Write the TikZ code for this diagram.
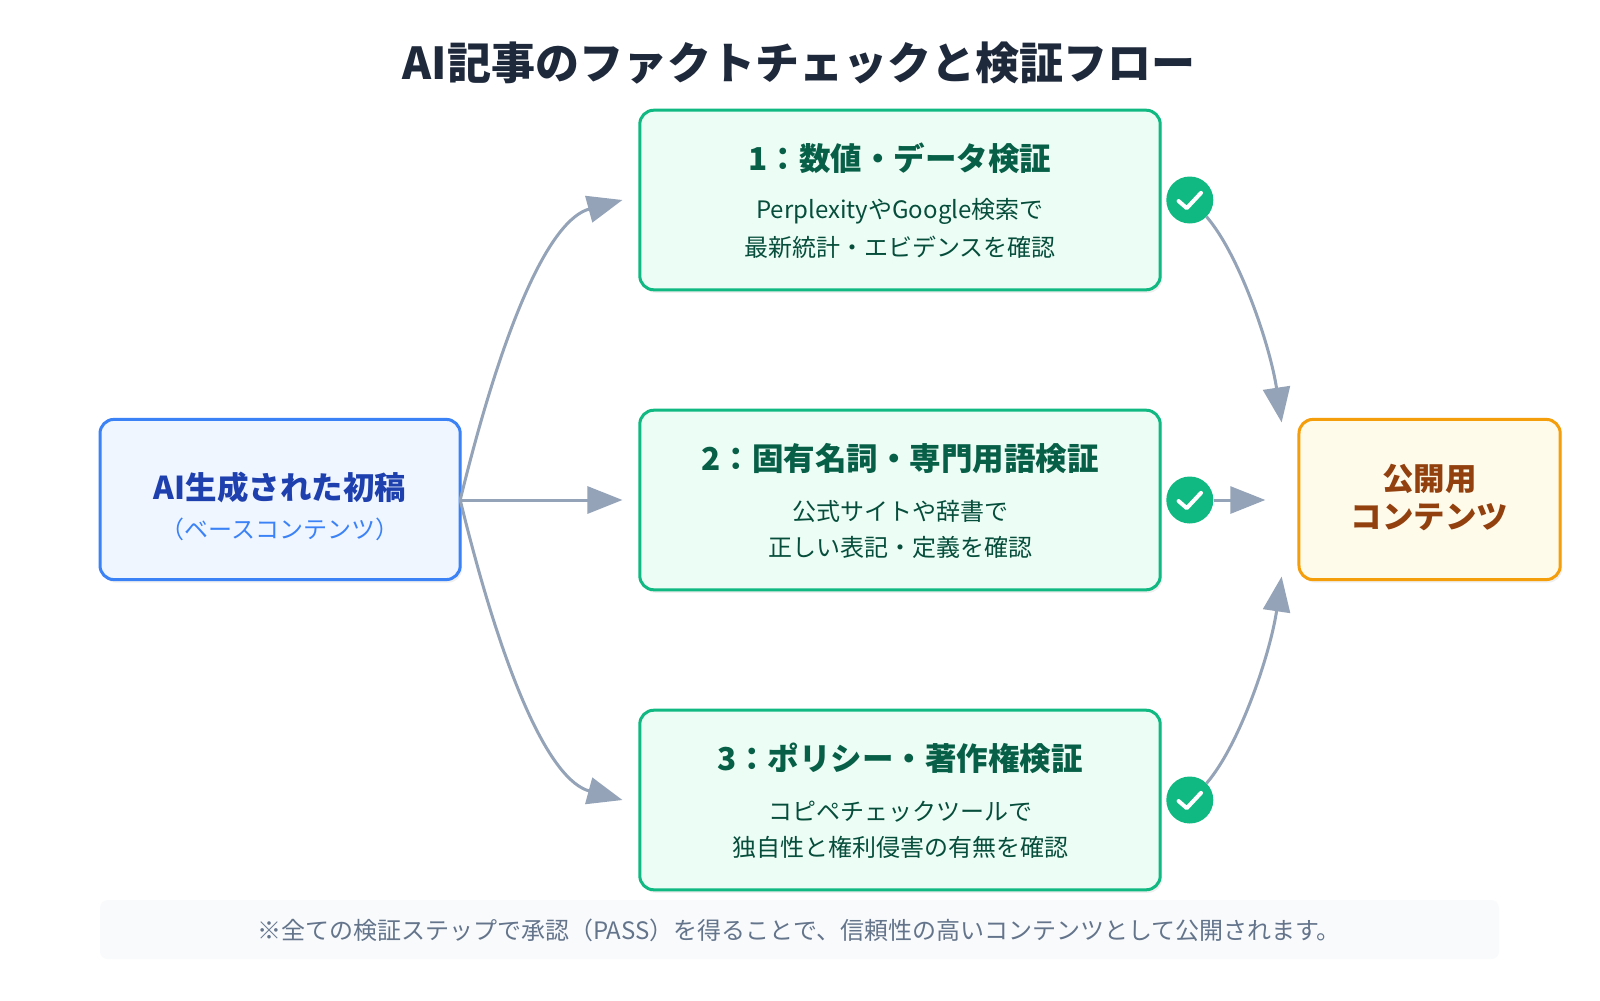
\documentclass[tikz,border=0pt]{standalone}
\usepackage{fontspec}
\setmainfont{Noto Sans CJK JP}
\usetikzlibrary{arrows.meta,shadows}
\definecolor{navy}{HTML}{1E293B}
\definecolor{gline}{HTML}{94A3B8}
\definecolor{gfill}{HTML}{ECFDF5}
\definecolor{gbord}{HTML}{10B981}
\definecolor{gtext}{HTML}{065F46}
\definecolor{gdesc}{HTML}{064E3B}
\definecolor{bfill}{HTML}{EFF6FF}
\definecolor{bbord}{HTML}{3B82F6}
\definecolor{btext}{HTML}{1E40AF}
\definecolor{ofill}{HTML}{FFFBEB}
\definecolor{obord}{HTML}{F59E0B}
\definecolor{otext}{HTML}{92400E}
\definecolor{nfill}{HTML}{F8FAFC}
\definecolor{ntext}{HTML}{64748B}
\begin{document}
\begin{tikzpicture}[x=1.0204pt,y=-1.0204pt,
  box/.style={draw,line width=3pt,rounded corners=14pt,drop shadow={opacity=0.12,shadow xshift=2pt,shadow yshift=-3pt}},
  stepbox/.style={box,fill=gfill,draw=gbord},
  arr/.style={draw=gline,line width=3pt,-{Triangle[length=35pt,width=27pt]}},
  chk/.style={circle,fill=gbord,minimum size=47pt,inner sep=0pt},
  ttl/.style={font=\fontsize{31.5}{34}\selectfont\bfseries},
  dsc/.style={font=\fontsize{24}{26}\selectfont}]
\useasboundingbox[fill=white] (0,0) rectangle (1568,980);
\node[font=\fontsize{44}{48}\selectfont\bfseries,text=navy] (title) at (783,62) {AI記事のファクトチェックと検証フロー};
% left
\path[box,fill=bfill,draw=bbord] (98,411) rectangle (451,568);
\node[ttl,text=btext] (srct) at (274.5,478) {AI生成された初稿};
\node[dsc,text=bbord] (srcs) at (274.5,519) {（ベースコンテンツ）};
% steps
\foreach \i/\y/\t/\a/\b in {1/196/1：数値・データ検証/PerplexityやGoogle検索で/最新統計・エビデンスを確認,
  2/490/2：固有名詞・専門用語検証/公式サイトや辞書で/正しい表記・定義を確認,
  3/784/3：ポリシー・著作権検証/コピペチェックツールで/独自性と権利侵害の有無を確認}{
  \path[stepbox] (627,\y-88) rectangle (1137,\y+88);
  \node[ttl,text=gtext] (s\i t) at (882,\y-41) {\t};
  \node[dsc,text=gdesc] (s\i a) at (882,\y+11) {\a};
  \node[dsc,text=gdesc] (s\i b) at (882,\y+46) {\b};
  \node[chk] (c\i) at (1166,\y) {};
  \draw[white,line width=4pt,line cap=round,line join=round] (1155,\y+1) -- (1163,\y+8) -- (1177,\y-7);
  \coordinate (in\i) at (610,\y);
}
% right
\path[box,fill=ofill,draw=obord] (1273,411) rectangle (1529,568);
\node[ttl,text=otext] (dst1) at (1401,469) {公開用};
\node[ttl,text=otext] (dst2) at (1401,507) {コンテンツ};
\coordinate (src) at (451,490);
\coordinate (d1) at (1256,414);
\coordinate (d2) at (1240,490);
\coordinate (d3) at (1256,565);
% arrows
\draw[arr] (src) .. controls (495,310) and (540,215) .. (in1);
\draw[arr] (src) -- (in2);
\draw[arr] (src) .. controls (495,670) and (540,765) .. (in3);
\draw[arr] (c1.south east) .. controls (1215,250) and (1245,340) .. (d1);
\draw[arr] (c2.east) -- (d2);
\draw[arr] (c3.north east) .. controls (1215,730) and (1245,640) .. (d3);
% note
\fill[nfill,rounded corners=8pt] (98,882) rectangle (1469,940);
\node[font=\fontsize{24}{26}\selectfont,text=ntext] (note) at (783,912) {※全ての検証ステップで承認（PASS）を得ることで、信頼性の高いコンテンツとして公開されます。};
\end{tikzpicture}
\end{document}
